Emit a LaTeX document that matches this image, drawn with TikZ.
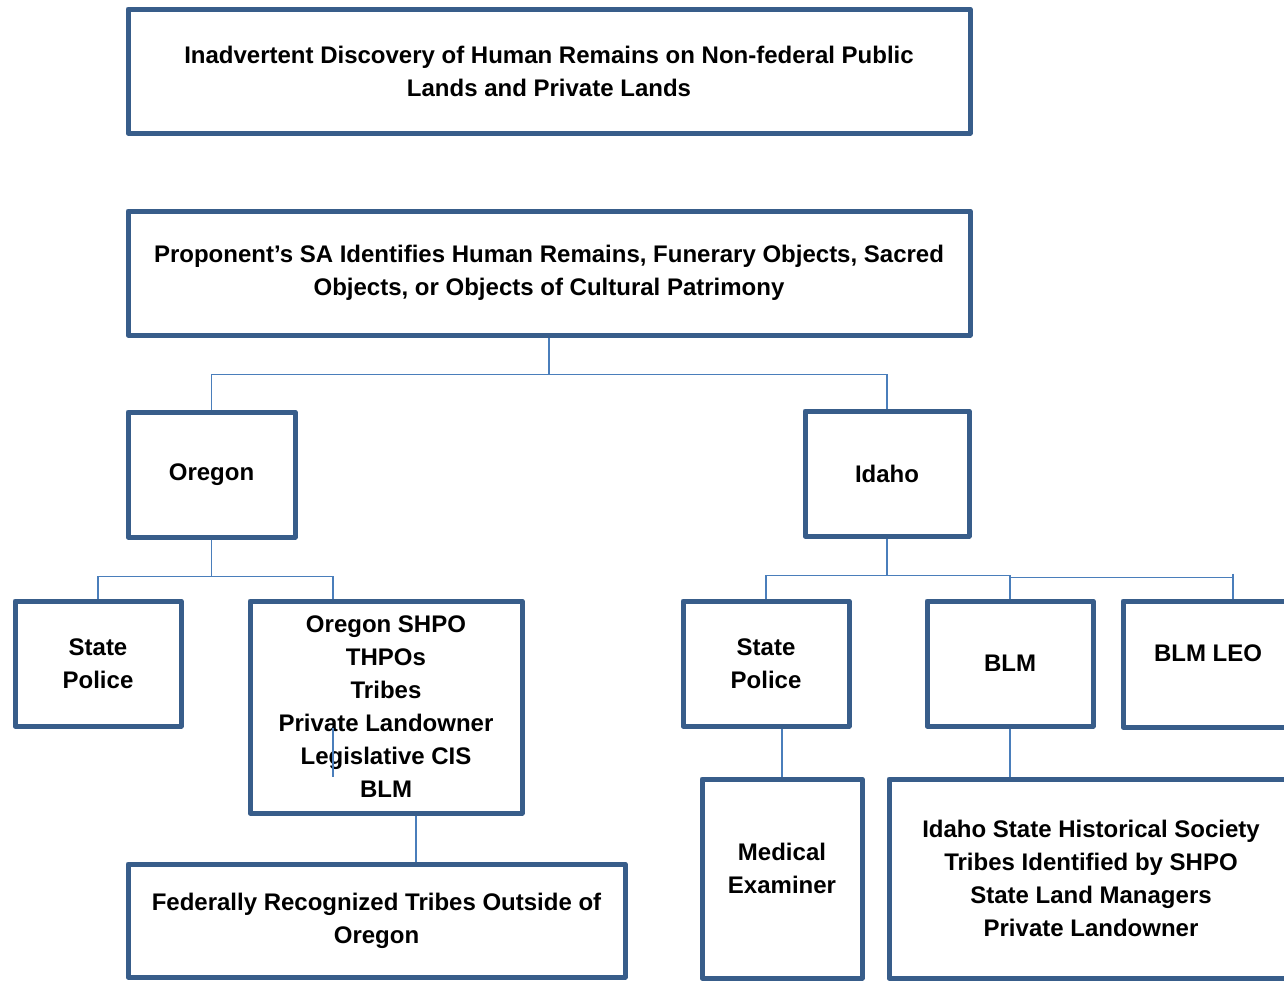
\documentclass[tikz,border=0pt]{standalone}
\usepackage{fontspec}
\setmainfont{Liberation Sans}
\definecolor{boxblue}{HTML}{385D8A}
\definecolor{lineblue}{HTML}{4A7EBB}

\begin{document}
\begin{tikzpicture}
      [%%%%%%%%%%%%%%%%%%%%%%%%%%%%%%
      x=1pt,y=-1pt,
      txt/.style={align=center,inner sep=0pt,font=\fontsize{24}{33}\selectfont\bfseries},
      box/.style={txt,rectangle,draw=boxblue,line width=5pt,line join=round,fill=white},
      link/.style={draw=lineblue,line width=1.8pt},
      ]%%%%%%%%%%%%%%%%%%%%%%%%%%%%%%
      \useasboundingbox (0,0) rectangle (1284,980);

      % top of the chart
      \node[box,minimum width=842pt,minimum height=124pt] (discovery) at (549,71)
        {Inadvertent Discovery of Human Remains on Non-federal Public\\Lands and Private Lands};
      \node[box,minimum width=842pt,minimum height=124pt] (sa) at (549,273)
        {Proponent's SA Identifies Human Remains, Funerary Objects, Sacred\\Objects, or Objects of Cultural Patrimony};

      % states
      \node[box,minimum width=167pt,minimum height=125pt] (oregon) at (211.5,474.5) {Oregon};
      \node[box,minimum width=164pt,minimum height=125pt] (idaho) at (887,473.5) {Idaho};

      % oregon branch
      \node[box,minimum width=166pt,minimum height=125pt] (orpolice) at (98,663.5) {State\\Police};
      \node[box,minimum width=272pt,minimum height=212pt] (orlist) at (386,707)
        {Oregon SHPO\\THPOs\\Tribes\\Private Landowner\\Legislative CIS\\BLM};
      \node[box,minimum width=497pt,minimum height=113pt] (fedtribes) at (376.5,920.5)
        {Federally Recognized Tribes Outside of\\Oregon};

      % idaho branch
      \node[box,minimum width=166pt,minimum height=125pt] (idpolice) at (766,663.5) {State\\Police};
      \node[box,minimum width=166pt,minimum height=125pt] (blm) at (1010,663.5) {BLM};
      \node[box,minimum width=170pt,minimum height=126pt,
            label={[txt,yshift=11pt]center:BLM LEO}] (leo) at (1208,664) {};
      \node[box,minimum width=160pt,minimum height=199pt,
            label={[txt,yshift=10pt]center:Medical\\Examiner}] (medex) at (782,878.5) {};
      \node[box,minimum width=404pt,minimum height=199pt] (idlist) at (1091,878.5)
        {Idaho State Historical Society\\Tribes Identified by SHPO\\State Land Managers\\Private Landowner};

      % connectors
      \draw[link] (sa.south) -- ++(0,37) coordinate (sabus);
      \draw[link] (oregon.north) |- (sabus) -| (idaho.north);

      \coordinate (ordrop) at ([xshift=-53pt]orlist.north);
      \draw[link] (oregon.south) -- ++(0,37) coordinate (orbus);
      \draw[link] (orpolice.north) |- (orbus) -| (ordrop);
      \coordinate (ortop) at (333,728);
      \coordinate (orbot) at (333,777);
      \draw[link] (ortop) -- (orbot);
      \coordinate (fedlink) at ([xshift=30pt]orlist.south);
      \draw[link] (fedlink) -- (fedlink |- fedtribes.north);

      \draw[link] (idaho.south) -- ++(0,37) coordinate (idbus);
      \draw[link] (idpolice.north) |- (idbus) -| (blm.north);
      \coordinate (leodrop) at ([xshift=25pt]leo.north);
      \draw[link] ([yshift=21pt]blm.north) -| (leodrop);
      \draw[link] ([yshift=25pt]leodrop) -- (leodrop);
      \draw[link] (medex.north) -- (medex.north |- idpolice.south);
      \draw[link] (blm.south) -- (blm.south |- idlist.north);
\end{tikzpicture}
\end{document}
